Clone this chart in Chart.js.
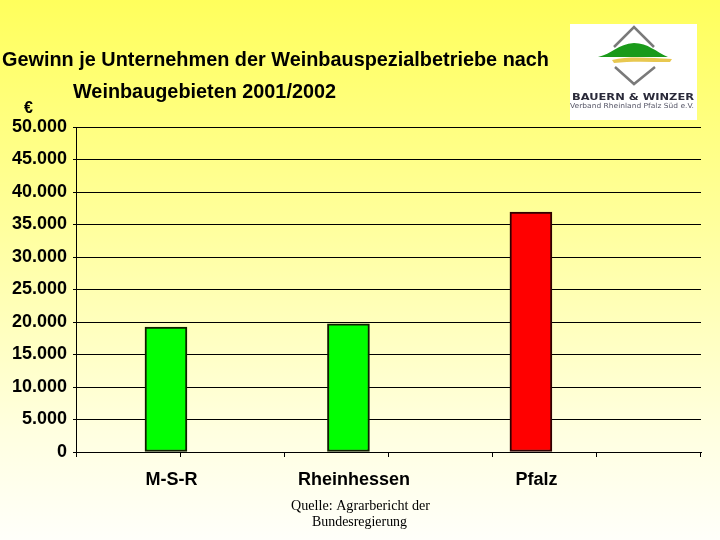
<!DOCTYPE html>
<html>
<head>
<meta charset="utf-8">
<script src="https://cdn.jsdelivr.net/npm/chart.js@4.4.0/dist/chart.umd.min.js"></script>
<style>
  html, body { margin: 0; padding: 0; }
  body { width: 720px; height: 540px; background: linear-gradient(#ffff5c 0%, #ffff9a 40%, #ffffe0 80%, #fffffa 100%); }
  #wrap { position: relative; width: 720px; height: 540px; }
</style>
</head>
<body>
<div id="wrap"><canvas id="chart" width="720" height="540"></canvas></div>
<script>
// chart data
const categories = ["M-S-R", "Rheinhessen", "Pfalz"];
const gewinn = [19200, 19700, 36900];
const barColors = ["#00ff00", "#00ff00", "#ff0000"];
const barBorders = ["#102000", "#102000", "#300000"];
const yMax = 50000;
const yStep = 5000;
const xSlots = 6; // tick marks along the category axis

const titleLines = ["Gewinn je Unternehmen der Weinbauspezialbetriebe nach", "Weinbaugebieten 2001/2002"];
const yUnit = "€";
const sourceLines = ["Quelle: Agrarbericht der", "Bundesregierung"];
const logoLines = ["BAUERN & WINZER", "Verband Rheinland Pfalz Süd e.V."];

// x range so that the three bars sit where the original puts them
const xMin = -0.493;
const xMax = 2.932;

function fmt(v) {
    return String(v).replace(/\B(?=(\d{3})+(?!\d))/g, ".");
}

function fitText(ctx, text, x, y, width, font, align) {
    ctx.font = font;
    let w = ctx.measureText(text).width;
    ctx.save();
    ctx.translate(x, y);
    ctx.scale(width / w, 1);
    ctx.textAlign = align || "left";
    ctx.fillText(text, 0, 0);
    ctx.restore();
}

const decor = {
    id: "decor",
    afterDraw(chart) {
        let ctx = chart.ctx;
        ctx.save();
        ctx.fillStyle = "#000";
        ctx.textBaseline = "alphabetic";
        // title
        fitText(ctx, titleLines[0], 2, 66, 547, "bold 21px 'Liberation Sans', Arial");
        fitText(ctx, titleLines[1], 73, 98, 263, "bold 21px 'Liberation Sans', Arial");
        // unit
        ctx.font = "bold 16px 'Liberation Sans', Arial";
        ctx.fillText(yUnit, 24, 113);
        // source
        fitText(ctx, sourceLines[0], 291, 510, 139, "14px 'Liberation Serif', 'Times New Roman'");
        fitText(ctx, sourceLines[1], 312, 526, 95, "14px 'Liberation Serif', 'Times New Roman'");

        // logo
        ctx.fillStyle = "#ffffff";
        ctx.fillRect(570, 24, 127, 96);
        ctx.strokeStyle = "#7a7a7a";
        ctx.lineWidth = 2.5;
        ctx.beginPath();
        ctx.moveTo(614, 47); ctx.lineTo(634, 27); ctx.lineTo(654, 47);
        ctx.moveTo(615, 67); ctx.lineTo(634, 84); ctx.lineTo(655, 67);
        ctx.stroke();
        ctx.fillStyle = "#1a9a1a";
        ctx.beginPath();
        ctx.moveTo(598, 57);
        ctx.bezierCurveTo(612, 54, 618, 44, 634, 43);
        ctx.bezierCurveTo(648, 43, 656, 52, 668, 57);
        ctx.closePath();
        ctx.fill();
        ctx.fillStyle = "#e8c850";
        ctx.beginPath();
        ctx.moveTo(612, 60);
        ctx.bezierCurveTo(630, 56, 650, 58, 672, 59);
        ctx.lineTo(670, 62);
        ctx.bezierCurveTo(650, 62, 630, 61, 614, 63);
        ctx.closePath();
        ctx.fill();
        ctx.fillStyle = "#2a2a3a";
        fitText(ctx, logoLines[0], 572, 100, 122, "bold 9px 'DejaVu Sans', sans-serif");
        ctx.fillStyle = "#555566";
        fitText(ctx, logoLines[1], 570, 108, 124, "7px 'DejaVu Sans', sans-serif");
        ctx.restore();
    }
};

let ctx = document.getElementById("chart").getContext("2d");
let BarChart = new Chart(ctx, {
    type: "bar",
    data: {
        datasets: [{
            data: categories.map((c, i) => ({ x: i, y: gewinn[i] })),
            backgroundColor: barColors,
            borderColor: barBorders,
            borderWidth: 2,
            borderSkipped: false,
            barThickness: 42
        }]
    },
    options: {
        responsive: false,
        animation: false,
        events: [],
        layout: { padding: { top: 127, right: 19, left: 0, bottom: 0 } },
        plugins: {
            legend: { display: false },
            title: { display: false },
            tooltip: { enabled: false }
        },
        scales: {
            x: {
                type: "linear",
                min: xMin,
                max: xMax,
                offset: false,
                afterBuildTicks: (s) => {
                    // slot boundaries get tick marks, category centres get the labels
                    let t = [];
                    for (let k = 0; k <= xSlots; k++) t.push({ value: xMin + k * (xMax - xMin) / xSlots });
                    categories.forEach((c, i) => t.push({ value: i + 0.03, cat: i }));
                    t.sort((a, b) => a.value - b.value);
                    s.ticks = t;
                },
                ticks: {
                    color: "#000",
                    font: { family: "'Liberation Sans', Arial", size: 18, weight: "bold" },
                    padding: 12,
                    maxRotation: 0,
                    autoSkip: false,
                    callback: function (v, i, ticks) {
                        return ticks[i].cat !== undefined ? categories[ticks[i].cat] : "";
                    }
                },
                grid: {
                    display: true,
                    drawOnChartArea: false,
                    drawTicks: true,
                    tickLength: 5,
                    offset: false,
                    color: "#000",
                    tickColor: (c) => (c.tick && c.tick.cat !== undefined) ? "rgba(0,0,0,0)" : "#000"
                },
                border: { display: true, color: "#000", width: 1 },
                afterFit: (s) => { s.height = 88; }
            },
            y: {
                min: 0,
                max: yMax,
                ticks: {
                    stepSize: yStep,
                    color: "#000",
                    font: { family: "'Liberation Sans', Arial", size: 18, weight: "bold" },
                    padding: 6,
                    callback: (v) => fmt(v)
                },
                grid: { color: "#000", lineWidth: 1, drawTicks: true, tickLength: 3 },
                border: { display: true, color: "#000", width: 1 },
                afterFit: (s) => { s.width = 76; }
            }
        }
    },
    plugins: [decor]
});
</script>
</body>
</html>
